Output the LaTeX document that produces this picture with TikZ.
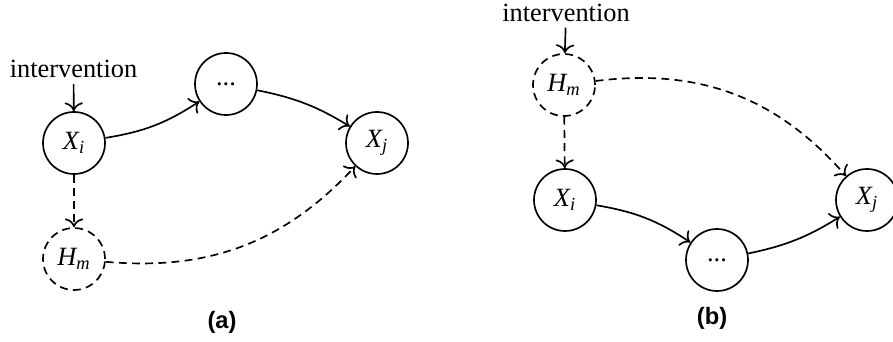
\documentclass[tikz,border=0pt]{standalone}
\usepackage{amsmath}
\usepackage{fontspec}
\setmainfont{Liberation Serif}
\newfontfamily\capfont{Liberation Sans}
\usetikzlibrary{arrows.meta}
\begin{document}
\begin{tikzpicture}[
    >={To[scale=1.35]},
    every node/.style={font=\fontsize{15}{18}\selectfont},
    var/.style={circle, draw, line width=0.95pt, minimum size=1.24cm, inner sep=0pt},
    hidden/.style={var, dash pattern=on 4.5pt off 3pt},
    edge/.style={->, line width=0.95pt},
    hiddenedge/.style={edge, dash pattern=on 4.5pt off 3pt},
    caption/.style={font=\capfont\bfseries\fontsize{13.5}{16}\selectfont}
  ]
  \useasboundingbox (0,0) rectangle (17.86,6.84);
  \node (inta) at (1.47,5.46) {intervention};
  \node[var] (Xia) at (1.48,3.98) {$\textit{X}_{\textit{i}}$};
  \node[var] (dotsa) at (4.52,5.16) {...};
  \node[var] (Xja) at (7.54,3.98) {$\textit{X}_{\textit{j}}$};
  \node[hidden] (Hma) at (1.48,1.66) {$\textit{H}_{\textit{m}}$};
  \node[caption] (capa) at (4.44,0.40) {(a)};
  \draw[edge] (inta) -- (Xia);
  \draw[edge] (Xia) to[bend right=12] (dotsa);
  \draw[edge] (dotsa) to[bend left=10] (Xja);
  \draw[hiddenedge] (Xia) -- (Hma);
  \draw[hiddenedge] (Hma) to[bend right=26] (Xja);
  \node (intb) at (11.32,6.59) {intervention};
  \node[hidden] (Hmb) at (11.28,5.14) {$\textit{H}_{\textit{m}}$};
  \node[var] (Xib) at (11.30,2.84) {$\textit{X}_{\textit{i}}$};
  \node[var] (dotsb) at (14.34,1.64) {...};
  \node[var] (Xjb) at (17.34,2.84) {$\textit{X}_{\textit{j}}$};
  \node[caption] (capb) at (14.24,0.48) {(b)};
  \draw[edge] (intb) -- (Hmb);
  \draw[hiddenedge] (Hmb) -- (Xib);
  \draw[hiddenedge] (Hmb) to[bend left=28] (Xjb);
  \draw[edge] (Xib) to[bend left=12] (dotsb);
  \draw[edge] (dotsb) to[bend right=10] (Xjb);
\end{tikzpicture}
\end{document}
